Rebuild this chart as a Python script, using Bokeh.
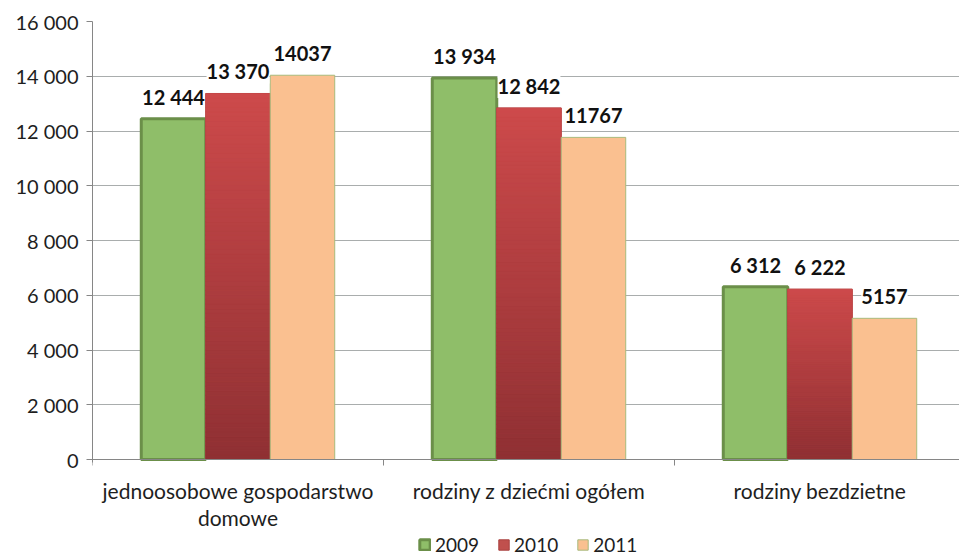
from bokeh.plotting import figure
from bokeh.models import (ColumnDataSource, FixedTicker, LabelSet, Legend,
                          LegendItem, Range1d, Span)
from bokeh.core.properties import value
from bokeh.embed import file_html
from bokeh.resources import INLINE

categories = ["jednoosobowe gospodarstwo\ndomowe", "rodziny z dziećmi ogółem",
              "rodziny bezdzietne"]
years = ["2009", "2010", "2011"]
values_2009 = [12444, 13934, 6312]
values_2010 = [13370, 12842, 6222]
values_2011 = [14037, 11767, 5157]
labels_2009 = ["12 444", "13 934", "6 312"]
labels_2010 = ["13 370", "12 842", "6 222"]
labels_2011 = ["14037", "11767", "5157"]
y_ticks = [0, 2000, 4000, 6000, 8000, 10000, 12000, 14000, 16000]
y_tick_labels = ["0", "2 000", "4 000", "6 000", "8 000", "10 000", "12 000",
                 "14 000", "16 000"]

FONT = "Lato"
TXT = "#1e1e1e"
AXIS = "#868686"
BAR_W = 0.2216
offsets = [-BAR_W, 0.0, BAR_W]
centers = [i + 0.5 for i in range(len(categories))]
boundaries = list(range(len(categories) + 1))

# layout in pixels
FRAME_W = 867
CAT_PX = 291
PLOT_H = 438            # height of the 0..16000 value area
FRAME_H = 535           # frame continues below zero to hold labels and legend
LINE_PX = 27
Y_MAX = y_ticks[-1]
per_px = Y_MAX / PLOT_H
y_min = -(FRAME_H - PLOT_H) * per_px

p = figure(frame_width=FRAME_W, frame_height=FRAME_H,
           x_range=Range1d(0, FRAME_W / CAT_PX), y_range=Range1d(y_min, Y_MAX),
           output_backend="svg", toolbar_location=None, x_axis_location=None,
           min_border_left=92, min_border_top=21, min_border_right=0,
           min_border_bottom=0, background_fill_color="white",
           border_fill_color="white")
p.outline_line_color = None

# grid
p.xgrid.visible = False
p.ygrid.ticker = FixedTicker(ticks=y_ticks)
p.ygrid.grid_line_color = "#a9adad"
p.ygrid.grid_line_width = 1

# y axis
p.yaxis.ticker = FixedTicker(ticks=y_ticks)
p.yaxis.bounds = (-3 * per_px, Y_MAX)
p.yaxis.major_label_overrides = {t: l for t, l in zip(y_ticks, y_tick_labels)}
p.yaxis.axis_line_color = AXIS
p.yaxis.major_tick_line_color = AXIS
p.yaxis.major_tick_out = 6
p.yaxis.major_tick_in = 0
p.yaxis.minor_tick_line_color = None
p.yaxis.major_label_standoff = 8
p.yaxis.major_label_text_font = FONT
p.yaxis.major_label_text_font_size = "20px"
p.yaxis.major_label_text_color = TXT

# category axis: line at zero, ticks at category boundaries, labels centred
p.add_layout(Span(location=0, dimension="width", line_color=AXIS, line_width=1))
p.segment(x0=boundaries, x1=boundaries, y0=[0] * len(boundaries),
          y1=[-6 * per_px] * len(boundaries), line_color=AXIS, line_width=1)
cat_lab = dict(x=[], text=[], dy=[])
for c, name in zip(centers, categories):
    for j, line in enumerate(name.split("\n")):
        cat_lab["x"].append(c)
        cat_lab["text"].append(line)
        cat_lab["dy"].append(-18 - LINE_PX * j)
p.add_layout(LabelSet(x="x", y=0, y_offset="dy", text="text",
                      source=ColumnDataSource(cat_lab),
                      text_align="center", text_baseline="top",
                      text_font=value(FONT), text_font_size="21px",
                      text_color=TXT))

# 2009 bars
src09 = ColumnDataSource(dict(x=[c + offsets[0] for c in centers], top=values_2009))
r09 = p.vbar(x="x", top="top", width=BAR_W, bottom=0, source=src09,
             fill_color="#8fbe69", line_color="#6b8f49", line_width=3)

# 2010 bars: base + vertical gradient
src10 = ColumnDataSource(dict(x=[c + offsets[1] for c in centers], top=values_2010))
r10 = p.vbar(x="x", top="top", width=BAR_W, bottom=0, source=src10,
             fill_color="#c0504d", line_color="#a9403f", line_width=1)

N = 80
lo = (0x8f, 0x30, 0x33)
hi = (0xcd, 0x4a, 0x4b)
grad = dict(left=[], right=[], bottom=[], top=[], color=[])
for c, v in zip(centers, values_2010):
    xc = c + offsets[1]
    for k in range(N):
        t = (k + 0.5) / N
        col = tuple(int(round(a + (b - a) * t)) for a, b in zip(lo, hi))
        grad["left"].append(xc - BAR_W / 2)
        grad["right"].append(xc + BAR_W / 2)
        grad["bottom"].append(v * k / N)
        grad["top"].append(v * (k + 1) / N)
        grad["color"].append("#%02x%02x%02x" % col)
p.quad(left="left", right="right", bottom="bottom", top="top",
       fill_color="color", line_color="color", line_width=0.6,
       source=ColumnDataSource(grad))

# 2011 bars
src11 = ColumnDataSource(dict(x=[c + offsets[2] for c in centers], top=values_2011))
r11 = p.vbar(x="x", top="top", width=BAR_W, bottom=0, source=src11,
             fill_color="#fac090", line_color="#a9ba7c", line_width=1)

# data labels
lab = dict(x=[], y=[], text=[])
for off, vals, labs in zip(offsets, [values_2009, values_2010, values_2011],
                           [labels_2009, labels_2010, labels_2011]):
    for c, v, t in zip(centers, vals, labs):
        lab["x"].append(c + off)
        lab["y"].append(v)
        lab["text"].append(t)
p.add_layout(LabelSet(x="x", y="y", text="text", source=ColumnDataSource(lab),
                      text_align="center", text_baseline="middle", y_offset=22,
                      text_font=value(FONT), text_font_style="bold",
                      text_font_size="20px", text_color="#111111",
                      background_fill_color="white"))

legend = Legend(items=[LegendItem(label=years[0], renderers=[r09]),
                       LegendItem(label=years[1], renderers=[r10]),
                       LegendItem(label=years[2], renderers=[r11])],
                orientation="horizontal", location=(326, 0),
                border_line_color=None, background_fill_alpha=0,
                glyph_width=13, glyph_height=13, label_standoff=4, spacing=18,
                padding=0, margin=0, label_height=20,
                label_text_font=FONT, label_text_font_size="19px",
                label_text_color=TXT)
p.add_layout(legend)

open("out.html", "w").write(file_html(p, INLINE))
